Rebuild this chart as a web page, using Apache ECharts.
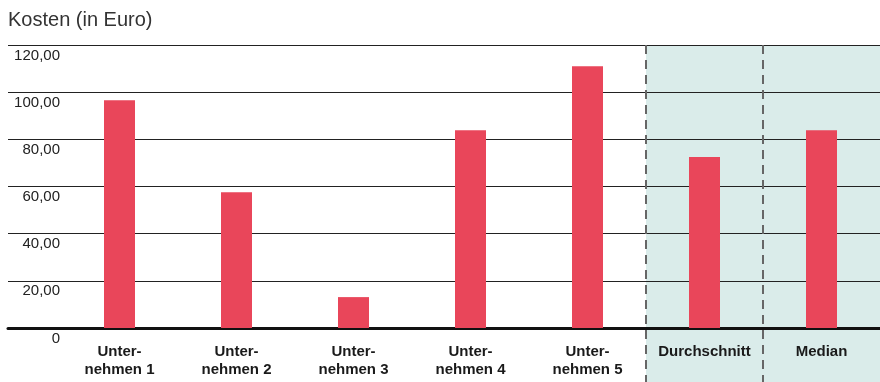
<!DOCTYPE html>
<html>
<head>
<meta charset="utf-8">
<script src="https://cdn.jsdelivr.net/npm/echarts@6/dist/echarts.min.js"></script>
<style>html,body{margin:0;padding:0;background:#fff}#c{width:880px;height:382px}</style>
</head>
<body>
<div id="c"></div>
<script>
const categories = ['Unter-\nnehmen 1', 'Unter-\nnehmen 2', 'Unter-\nnehmen 3', 'Unter-\nnehmen 4', 'Unter-\nnehmen 5', 'Durchschnitt', 'Median'];
const costs = [96.6, 57.6, 13.1, 83.9, 111.0, 72.5, 83.9];
const yMin = 0, yMax = 120, yStep = 20;
const titleText = 'Kosten (in Euro)';
const font = 'Liberation Sans, Arial, sans-serif';

const chart = echarts.init(document.getElementById('c'));
const fmt = v => v === 0 ? '0' : v.toFixed(2).replace('.', ',');
chart.setOption({
  animation: false,
  title: { text: titleText, left: 8, top: 10, padding: 0, textStyle: { fontFamily: font, fontSize: 20, fontWeight: 'normal', color: '#333' } },
  grid: [
    { left: 61, right: 0, top: 45, bottom: 54 },
    { left: 8, right: 0, top: 45, bottom: 54 }
  ],
  xAxis: [
    { type: 'category', gridIndex: 0, data: categories,
      axisLine: { show: false }, axisTick: { show: false },
      axisLabel: { interval: 0, hideOverlap: false, margin: 15, fontFamily: font, fontSize: 15, fontWeight: 'bold', color: '#1a1a1a', lineHeight: 18 } },
    { type: 'value', gridIndex: 1, min: 0, max: 1,
      axisLabel: { show: false }, axisTick: { show: false }, splitLine: { show: false },
      axisLine: { show: true, lineStyle: { color: '#111', width: 3 } } }
  ],
  yAxis: [
    { type: 'value', gridIndex: 0, min: yMin, max: yMax, interval: yStep, show: false, splitLine: { show: false } },
    { type: 'value', gridIndex: 1, min: yMin, max: yMax, interval: yStep,
      axisLine: { show: false }, axisTick: { show: false },
      splitLine: { show: true, lineStyle: { color: '#222', width: 1 } },
      axisLabel: { inside: true, align: 'right', margin: 52, verticalAlign: 'top', padding: [3, 0, 0, 0],
        fontFamily: font, fontSize: 15, color: '#222', formatter: fmt } }
  ],
  series: [{
    type: 'bar', xAxisIndex: 0, yAxisIndex: 0, data: costs, barWidth: 31,
    itemStyle: { color: '#e9465a' }, z: 3
  }]
});

// shaded region and dashed separators positioned via the axis scales
const cx = i => chart.convertToPixel({ xAxisIndex: 0 }, i);
const b1 = (cx(4) + cx(5)) / 2;
const b2 = (cx(5) + cx(6)) / 2;
const yTop = chart.convertToPixel({ yAxisIndex: 0 }, yMax);
const W = chart.getWidth(), H = chart.getHeight();
chart.setOption({
  graphic: [
    { type: 'rect', z: -10, silent: true, shape: { x: b1, y: yTop, width: W - b1, height: H - yTop }, style: { fill: '#daecea' } },
    { type: 'line', z: 1, silent: true, shape: { x1: b1, y1: yTop, x2: b1, y2: H }, style: { stroke: '#666', lineWidth: 2, lineDash: [9, 6] } },
    { type: 'line', z: 1, silent: true, shape: { x1: b2, y1: yTop, x2: b2, y2: H }, style: { stroke: '#666', lineWidth: 2, lineDash: [9, 6] } }
  ]
});
</script>
</body>
</html>
